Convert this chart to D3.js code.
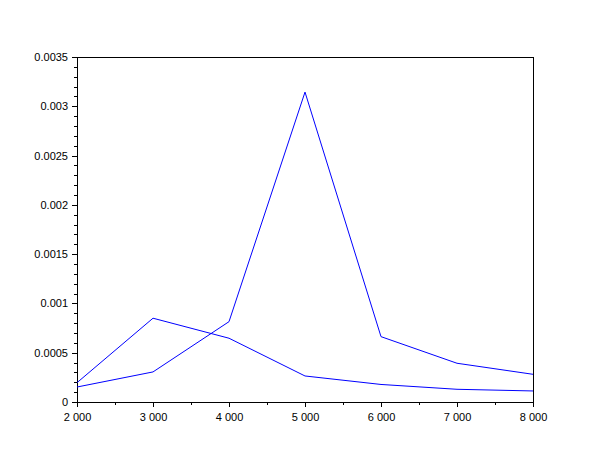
<!DOCTYPE html>
<html><head><meta charset="utf-8">
<script src="https://cdn.jsdelivr.net/npm/d3@7"></script>
<style>body{margin:0;background:#fff}svg{display:block}text{font-family:"Liberation Sans",Arial,sans-serif;font-size:11px;fill:#000}</style>
</head><body>
<script>
const xValues = [2000, 3000, 4000, 5000, 6000, 7000, 8000];
const seriesA = [0.000196, 0.00085, 0.000647, 0.000264, 0.000178, 0.000129, 0.000112];
const seriesB = [0.000152, 0.000305, 0.000815, 0.003144, 0.000663, 0.000393, 0.000281];
const xTicks = [2000, 3000, 4000, 5000, 6000, 7000, 8000];
const yTicks = [0, 0.0005, 0.001, 0.0015, 0.002, 0.0025, 0.003, 0.0035];
const yTickLabels = ["0", "0.0005", "0.001", "0.0015", "0.002", "0.0025", "0.003", "0.0035"];

const W = 610, H = 460;
const m = {left: 77, right: 77, top: 57, bottom: 58};
const svg = d3.select("body").append("svg").attr("width", W).attr("height", H);
const x = d3.scaleLinear().domain([2000, 8000]).range([m.left, W - m.right]);
const y = d3.scaleLinear().domain([0, 0.0035]).range([H - m.bottom, m.top]);

const fmtX = v => d3.format(",")(v).replace(/,/g, " ");

// box
svg.append("rect").attr("x", x(2000)).attr("y", y(0.0035))
  .attr("width", x(8000) - x(2000)).attr("height", y(0) - y(0.0035))
  .attr("fill", "none").attr("stroke", "#000").attr("shape-rendering", "crispEdges");

// x axis
const xMinor = d3.range(2000, 8001, 500);
const gx = svg.append("g").attr("transform", `translate(0,${y(0)})`);
gx.call(d3.axisBottom(x).tickValues(xMinor).tickSize(3).tickFormat(""))
  .call(g => g.select(".domain").remove());
gx.append("g").call(d3.axisBottom(x).tickValues(xTicks).tickSize(5).tickFormat(fmtX).tickPadding(6))
  .call(g => g.select(".domain").remove())
  .call(g => g.selectAll("text").style("font-size", "11px").attr("fill", "#000").style("font-family", "Liberation Sans, Arial, sans-serif"));
gx.selectAll("line").attr("stroke", "#000").attr("shape-rendering", "crispEdges");

// y axis
const yMinor = d3.range(0, 36).map(i => i * 0.0001);
const gy = svg.append("g").attr("transform", `translate(${x(2000)},0)`);
gy.call(d3.axisLeft(y).tickValues(yMinor).tickSize(3).tickFormat(""))
  .call(g => g.select(".domain").remove());
gy.append("g").call(d3.axisLeft(y).tickValues(yTicks).tickSize(5).tickFormat((d, i) => yTickLabels[i]).tickPadding(4))
  .call(g => g.select(".domain").remove())
  .call(g => g.selectAll("text").style("font-size", "11px").attr("fill", "#000").style("font-family", "Liberation Sans, Arial, sans-serif"));
gy.selectAll("line").attr("stroke", "#000").attr("shape-rendering", "crispEdges");

const line = d3.line().x((d, i) => x(xValues[i])).y(d => y(d));
[seriesA, seriesB].forEach(s => {
  svg.append("path").datum(s).attr("d", line)
    .attr("fill", "none").attr("stroke", "#0000ff").attr("stroke-width", 1);
});
</script>
</body></html>
